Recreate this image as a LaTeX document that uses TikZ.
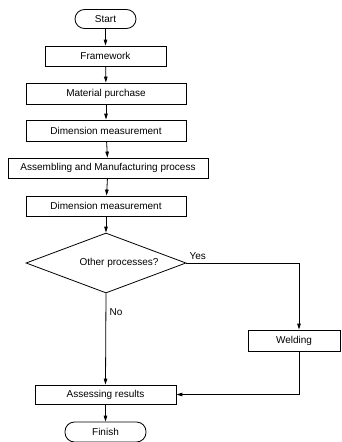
\documentclass[tikz,border=0pt]{standalone}
\usepackage{fontspec}
\setmainfont{Liberation Sans}
\usetikzlibrary{shapes}
\usetikzlibrary{arrows.meta}

\begin{document}
\begin{tikzpicture}[x=1pt, y=-1pt, line width=0.8pt, >={Triangle[length=6pt,width=3.5pt]},
		box/.style={rectangle, draw, inner sep=0pt, minimum height=20pt, font=\fontsize{10}{12}\selectfont},
		term/.style={rectangle, rounded corners=9.5pt, draw, inner sep=0pt, minimum height=19pt, font=\fontsize{10}{12}\selectfont},
		decide/.style={diamond, aspect=2.67, draw, inner sep=0pt, minimum width=160pt, minimum height=60pt, font=\fontsize{10}{12}\selectfont},
		lbl/.style={font=\fontsize{10}{12}\selectfont}]
		\useasboundingbox (0, 0) rectangle (341, 442);
		\node[term, minimum width=61pt] (start) at (105.5, 19) {Start};
		\node[box, minimum width=121pt] (frame) at (105.5, 56) {Framework};
		\node[box, minimum width=160pt, minimum height=21pt] (buy) at (106, 93.5) {Material purchase};
		\node[box, minimum width=160pt, minimum height=21pt] (dim1) at (106, 130.5) {Dimension measurement};
		\node[box, minimum width=200pt] (make) at (108, 168) {Assembling and Manufacturing process};
		\node[box, minimum width=160pt] (dim2) at (106, 206) {Dimension measurement};
		\node[decide] (other) at (106, 263) {\hspace*{26pt}Other processes?};
		\coordinate (turn) at (299, 263);
		\node[box, minimum width=92pt, minimum height=21pt] (weld) at (294, 340.5) {Welding};
		\node[box, minimum width=141pt, minimum height=19pt] (assess) at (105.5, 394.5) {Assessing results};
		\node[term, minimum width=81pt, minimum height=20pt] (finish) at (105.5, 432) {Finish};
		\draw[->] (start) -- (frame);
		\draw[->] (frame) -- (buy);
		\draw[->] (buy) -- (dim1);
		\draw[->] (dim1) -- (make);
		\draw[->] (make) -- (dim2);
		\draw[->] (dim2) -- (other);
		\draw[->] (other.east) -- node[lbl, above, pos=0.1]{Yes} (turn) -- (turn |- weld.north);
		\draw[->] (other.south) -- node[lbl, right, pos=0.2]{No} (assess.north);
		\draw[->] (weld.south -| turn) -- (turn |- assess.east) -- (assess.east);
		\draw[->] (assess) -- (finish);
	\end{tikzpicture}
\end{document}
